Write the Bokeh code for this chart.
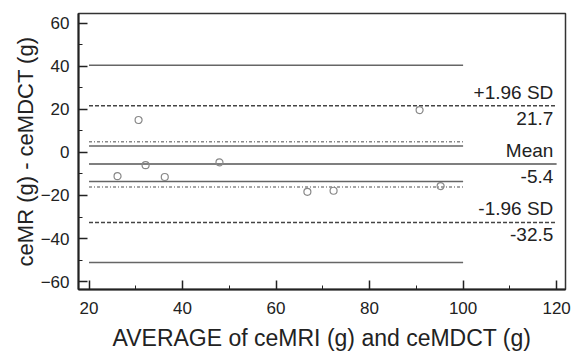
from bokeh.plotting import figure
from bokeh.models import Range1d, SingleIntervalTicker, Label
from bokeh.embed import file_html
from bokeh.resources import INLINE

# data
avg = [26.1, 30.6, 32.1, 36.2, 47.9, 66.7, 72.3, 90.7, 95.2]
diff = [-11.0, 15.1, -5.9, -11.4, -4.6, -18.3, -17.8, 19.7, -15.6]

mean_diff = -5.4
upper_loa = 21.7
lower_loa = -32.5
loa_x = [20, 120]

ci_x = [20, 100]
upper_ci = [3.0, 40.5]
lower_ci = [-13.5, -51.2]
mean_ci = [-16.0, 5.0]

FONT = "Liberation Sans"

p = figure(width=571, height=353, output_backend="svg", toolbar_location=None,
           x_range=Range1d(17.75, 121.9), y_range=Range1d(-63.7, 64.6),
           min_border_left=78, min_border_right=6, min_border_top=13, min_border_bottom=60)
p.xgrid.visible = False
p.ygrid.visible = False
p.outline_line_color = "#333333"
p.outline_line_width = 1.5

# CI lines
for v in upper_ci + lower_ci:
    p.line(ci_x, [v, v], line_color="#666666", line_width=1.5)
for v in mean_ci:
    p.line(ci_x, [v, v], line_color="#888888", line_width=1.5, line_dash="3 2 1 2")

# LoA and mean
p.line(loa_x, [mean_diff, mean_diff], line_color="#555555", line_width=1.5)
for v in [upper_loa, lower_loa]:
    p.line(loa_x, [v, v], line_color="#444444", line_width=1.5, line_dash="4 2")

p.scatter(avg, diff, marker="circle", size=7, fill_color=None, line_color="#888888", line_width=1.2)

# labels
lx = 119.3
def lab(text, y, below):
    p.add_layout(Label(x=lx, y=y, text=text, text_align="right",
                       text_baseline="top" if below else "bottom",
                       y_offset=-6 if below else 3,
                       text_font=FONT, text_font_size="19px", text_color="#222222"))

lab("+1.96 SD", upper_loa, False)
lab(f"{upper_loa}", upper_loa, True)
lab("Mean", mean_diff, False)
lab(f"{mean_diff}", mean_diff, True)
lab("-1.96 SD", lower_loa, False)
lab(f"{lower_loa}", lower_loa, True)

for ax in (p.xaxis[0], p.yaxis[0]):
    ax.ticker = SingleIntervalTicker(interval=20, num_minor_ticks=2)
    ax.major_tick_in = 9
    ax.major_tick_out = 0
    ax.minor_tick_in = 4
    ax.minor_tick_out = 0
    ax.axis_line_width = 2
    ax.axis_line_color = "#222222"
    ax.major_tick_line_color = "#222222"
    ax.minor_tick_line_color = "#222222"
    ax.major_tick_line_width = 1.5
    ax.major_label_text_font = FONT
    ax.major_label_text_font_size = "17px"
    ax.major_label_text_color = "#222222"
    ax.axis_label_text_font = FONT
    ax.axis_label_text_font_style = "normal"
    ax.axis_label_text_color = "#222222"

p.xaxis.axis_label = "AVERAGE of ceMRI (g) and ceMDCT (g)"
p.yaxis.axis_label = "ceMR (g) - ceMDCT (g)"
p.xaxis.axis_label_text_font_size = "23px"
p.yaxis.axis_label_text_font_size = "22px"
p.xaxis.major_label_standoff = 12
p.xaxis.axis_label_standoff = 8
p.yaxis.major_label_standoff = 9
p.yaxis.axis_label_standoff = 0

open("out.html", "w").write(file_html(p, INLINE))
